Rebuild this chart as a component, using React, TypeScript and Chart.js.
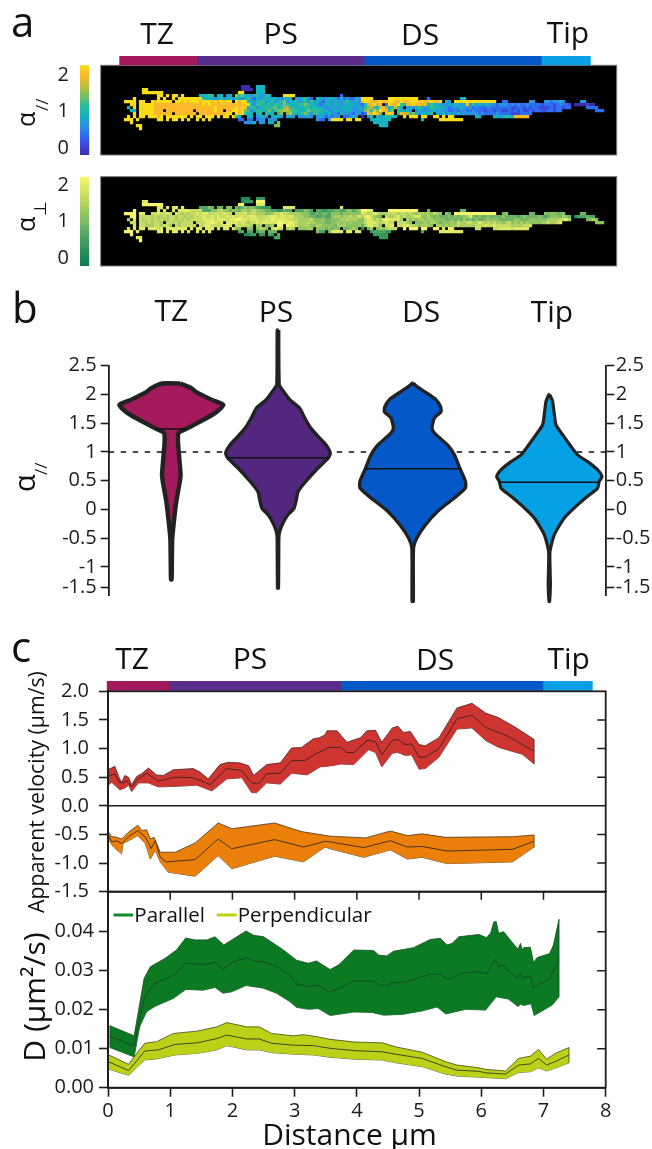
import React, { useEffect, useRef } from "react";
import { Chart, registerables } from "chart.js";

Chart.register(...registerables);

// ---------- panel a: localisation maps, one digit per pixel bin (0 = alpha 0, 9 = alpha 2) ----------
const parallelMap = [
  ".......... .......... .......... .......... 000..444",
  ".......99. .......... .......... .......... 0000.444",
  ".......999 9999...... .......... .........9 9....444",
  ".......... ..99.9.99. 9.....4445 5.44.34.65 6443453354 ....9999.. .......... ...2......",
  "....9..... ..9.9..9.9 9999999544 4345344354 3453243444 4433444.33 4532.44334 4324232243 9999.....9 999999999. ..2....... ...44.....",
  ".9999.99.. 9899999.99 8989998999 8989899.98 9944345534 5345634453 4535343244 3433454343 8998789889 9889889998 9889889.43 .999999999 99999..22. ......33.. .3323343.. ...33",
  "...99.9999 9888888888 8888888989 8888888888 8994355445 4554654445 5654432344 3443444433 2478978.29 8895488988 7845443334 3443483534 3443323332 3232232222 1222123221 .0000100",
  "..4.9.9999 9888888888 8888888888 8988888898 9845534554 5645675544 4554544333 4334444334 3567547864 5754.34345 4345544432 3334333232 2232222222 1122121221 1112122122 .....2222.",
  "...44.9999 9888.88888 8888.88888 8988.88998 9653455446 4566776554 4565555443 3443444333 3675869885 6.54343.34 3334434332 2323322322 2122122112 1212112122 1122122... ........22 2",
  "....9.9999 9888888.88 88888.8888 8888899.98 9544.45.54 4.56.67544 5653554434 3324333233 1287986.89 8.58775643 4445.43434 3343333332 3222232222 1112222...",
  "..9.9.99.9 9989.99999 99.9.99.99 9.9.99.954 ..44.3443. 4443.343.3 3343.34323 233.22343. 0.35.43455 44..9.999. 99..99.9.9 9.......44 ....443454 488888....",
  ".999.9.... ..99.9.99. 9.9..9.9.9 .........2 2.22.233.3 33........ .....322.3 9999.99.99 ...4444444 .......... 4.....9999 9999",
  "...9...... .......... .......... .......... .3334.33.4 4.6....... .......... .......... ....44444.",
  ".....99... .......... .......... .......... .......... .66....... .......... .......... ......444.",
  "......9..",
];
const perpendicularMap = [
  ".......... .......... .......... .......... 111..222",
  ".......88. .......... .......... .......... 1222.999",
  ".......999 9999...... .......... .........9 9....888",
  ".......... ..88.8.88. 8.....3335 4.44.55.43 4545433222 ....8888.. .......... ...8......",
  "....9..... ..8.8..8.8 8887777333 5567554554 6656765544 3322433.33 3543.33223 3443355345 9988.....9 999999999. ..4....... ...44.....",
  ".9999.88.. 7787787.87 6767787887 7777877.77 7867766655 6778776666 5553343443 5554555555 8767876667 7767767656 6665765.54 .999999999 99999..45. ......44.. .5455445.. ...44",
  "...99.7777 6766767767 7676777877 8787787878 8788877778 8878878766 6554433433 5665667668 6897654.76 6786766788 5565454445 4545568545 4454444544 4434544445 4345554654 .1333433",
  "..6.8.7677 6767667767 6767777888 8788878899 8878887787 9888887776 6667555544 5556676665 5788676898 8886.65656 6566555544 5454645454 4555554444 4554445555 5566667786 .....4565.",
  "...77.7767 6776.77676 7777.77788 9878.88887 8767787888 8899889876 6676655544 5565656555 5788876787 7.77765.55 5656654555 6576677668 7676766567 5656565555 6676678... ........55 5",
  "....8.7766 6776776.76 77777.7788 7777888.77 7776.66.55 6.99.98876 6665566555 5466655555 4688775.78 8.77887665 6665.66565 6676666677 7877877777 6666777...",
  "..8.8.88.8 8878.88888 88.8.88.88 8.8.88.855 ..55.5665. 7887.676.5 5566.55545 455.44565. 1.46.56567 77..9.999. 99..99.8.9 8.......77 ....778888 788888....",
  ".999.8.... ..88.8.88. 8.8..8.8.8 .........3 3.33.344.4 44........ .....533.4 8888.88.88 ...2333322 .......... 3.....8888 8888",
  "...9...... .......... .......... .......... .1122.22.3 2.3....... .......... .......... ....22222.",
  ".....88... .......... .......... .......... .......... .33....... .......... .......... ......222.",
  "......9..",
];
const parallelColors = ["#3f2da8", "#3a4be0", "#2e6ff0", "#2a92e0", "#16b2bf", "#2dbd98", "#7cc060", "#c8bc38", "#fcb92c", "#f8dd18"];
const perpendicularColors = ["#0a7a50", "#1f8a58", "#37975e", "#4ea565", "#6eb464", "#8cc263", "#a9cf62", "#c6dc64", "#e0e966", "#f8f66c"];

const regionNames = ["TZ", "PS", "DS", "Tip"];
const regionColors = ["#a3195b", "#5a2d8c", "#0558c8", "#0aa0e6"];
const mapRegionLengths = [1.0, 2.165, 2.287, 0.638];
const profileRegionLengths = [1.0, 2.765, 3.25, 0.8];

// ---------- panel b: violins as [alpha, half width] from top to bottom ----------
const violinTZ = [[2.19, 9], [2.11, 20], [2.04, 25], [1.91, 40], [1.82, 52], [1.68, 44], [1.52, 28], [1.4, 14.7], [1.33, 7.3], [1.18, 6.7], [0.89, 8], [0.6, 9.3], [0.43, 8], [0.14, 5], [-0.15, 3], [-0.5, 1], [-0.73, 0.7], [-1.19, 0.4], [-1.22, 0.2]];
const violinPS = [[3.12, 0.7], [2.17, 1.2], [2.08, 4.3], [1.91, 11.7], [1.76, 21.7], [1.59, 26.7], [1.41, 33], [1.24, 41.7], [1.12, 48], [0.98, 52.3], [0.89, 50], [0.72, 40], [0.49, 28], [0.31, 20], [0.17, 18.3], [0.02, 16], [-0.09, 10], [-0.27, 4], [-0.44, 1], [-0.73, 0.7], [-1.37, 0.4]];
const violinDS = [[2.2, 0.2], [2.14, 4], [2.05, 11.7], [1.91, 23.3], [1.79, 27.7], [1.7, 28.3], [1.59, 21.7], [1.41, 19.3], [1.3, 23.3], [1.12, 35], [0.95, 41.7], [0.71, 47.3], [0.49, 52.7], [0.37, 52.7], [0.2, 41.7], [-0.03, 25], [-0.27, 12.7], [-0.5, 4], [-0.67, 0.8], [-1.6, 0.6]];
const violinTip = [[2.0, 0.3], [1.96, 1.4], [1.88, 3.3], [1.7, 4.7], [1.47, 6.7], [1.3, 13.3], [1.12, 20.7], [0.95, 28.3], [0.81, 40], [0.69, 48.3], [0.57, 52.7], [0.49, 50], [0.37, 48.3], [0.23, 38.3], [0.08, 28.3], [-0.15, 15], [-0.44, 5], [-0.73, 0.7], [-1.08, 0.8], [-1.31, 1.1], [-1.6, 0.3]];
const violinProfiles = [violinTZ, violinPS, violinDS, violinTip];
const violinCentres = [62.6, 169.3, 304, 440.6];
const violinMeans = [1.4, 0.9, 0.71, 0.475];
const violinMeanHalfWidths = [14.7, 50.5, 47, 50];
const violinColors = ["#a3195b", "#53267f", "#0558c8", "#06a0e4"];
const violinStroke = [4.4, 3.4, 3.4, 3.2];
const alphaTicks = [2.5, 2, 1.5, 1, 0.5, 0, -0.5, -1, -1.36];
const alphaTickLabels = ["2.5", "2", "1.5", "1", "0.5", "0", "-0.5", "-1", "-1.5"];

// ---------- panel c ----------
const forwardUpper = [[0, 0.63], [0.11, 0.69], [0.18, 0.49], [0.22, 0.41], [0.27, 0.53], [0.33, 0.5], [0.38, 0.37], [0.46, 0.51], [0.54, 0.56], [0.65, 0.66], [0.78, 0.54], [0.89, 0.53], [1.05, 0.63], [1.37, 0.65], [1.48, 0.59], [1.61, 0.47], [1.8, 0.72], [1.93, 0.76], [2.12, 0.75], [2.26, 0.7], [2.34, 0.53], [2.55, 0.72], [2.77, 0.75], [2.95, 1.01], [3.11, 1.02], [3.3, 1.17], [3.4, 1.19], [3.49, 1.24], [3.52, 1.31], [3.68, 1.31], [3.84, 1.11], [4.06, 1.19], [4.16, 1.31], [4.3, 1.32], [4.4, 1.11], [4.57, 1.36], [4.66, 1.39], [4.75, 1.28], [4.86, 1.3], [5.0, 1.07], [5.1, 1.05], [5.32, 1.19], [5.61, 1.71], [5.85, 1.79], [6.07, 1.62], [6.28, 1.54], [6.55, 1.37], [6.85, 1.16]];
const forwardMid = [[0, 0.51], [0.11, 0.56], [0.18, 0.41], [0.25, 0.4], [0.3, 0.44], [0.38, 0.33], [0.46, 0.44], [0.62, 0.57], [0.81, 0.43], [1.05, 0.5], [1.37, 0.49], [1.64, 0.37], [1.91, 0.65], [2.15, 0.62], [2.31, 0.4], [2.42, 0.38], [2.55, 0.56], [2.77, 0.57], [2.95, 0.79], [3.17, 0.79], [3.36, 0.92], [3.55, 1.02], [3.74, 1.02], [3.84, 0.93], [3.95, 0.93], [4.18, 1.15], [4.3, 1.12], [4.4, 0.89], [4.57, 1.14], [4.66, 1.16], [4.78, 1.07], [4.88, 1.08], [5.0, 0.85], [5.1, 0.85], [5.32, 1.0], [5.61, 1.52], [5.85, 1.58], [6.07, 1.37], [6.44, 1.21], [6.85, 0.95]];
const forwardLower = [[0, 0.36], [0.06, 0.41], [0.19, 0.28], [0.27, 0.31], [0.33, 0.36], [0.38, 0.25], [0.49, 0.4], [0.65, 0.4], [0.81, 0.33], [1.1, 0.34], [1.43, 0.36], [1.67, 0.26], [1.91, 0.47], [2.15, 0.49], [2.31, 0.23], [2.39, 0.23], [2.55, 0.4], [2.77, 0.38], [2.95, 0.57], [3.2, 0.54], [3.41, 0.68], [3.6, 0.7], [3.74, 0.73], [3.95, 0.72], [4.19, 0.98], [4.3, 0.93], [4.4, 0.68], [4.57, 0.92], [4.66, 0.93], [4.78, 0.88], [4.88, 0.89], [5.0, 0.64], [5.1, 0.65], [5.32, 0.85], [5.61, 1.34], [5.85, 1.36], [6.07, 1.14], [6.28, 1.02], [6.66, 0.9], [6.85, 0.73]];

const backwardUpper = [[0, -0.45], [0.06, -0.54], [0.11, -0.54], [0.22, -0.58], [0.33, -0.46], [0.48, -0.34], [0.54, -0.43], [0.62, -0.42], [0.68, -0.58], [0.74, -0.55], [0.84, -0.81], [1.08, -0.81], [1.4, -0.65], [1.77, -0.3], [1.99, -0.4], [2.68, -0.3], [3.11, -0.45], [3.57, -0.53], [4.14, -0.56], [4.54, -0.44], [4.81, -0.52], [5.05, -0.49], [5.42, -0.55], [6.5, -0.54], [6.85, -0.51]];
const backwardMid = [[0, -0.5], [0.06, -0.63], [0.14, -0.61], [0.22, -0.66], [0.33, -0.54], [0.48, -0.43], [0.6, -0.55], [0.66, -0.66], [0.69, -0.75], [0.76, -0.61], [0.84, -0.9], [0.94, -0.98], [1.4, -0.94], [1.77, -0.58], [1.99, -0.75], [2.68, -0.59], [3.14, -0.72], [3.49, -0.62], [3.57, -0.63], [4.11, -0.73], [4.54, -0.61], [4.81, -0.72], [5.05, -0.71], [5.45, -0.79], [6.5, -0.76], [6.85, -0.62]];
const backwardLower = [[0, -0.58], [0.09, -0.72], [0.22, -0.84], [0.24, -0.66], [0.33, -0.61], [0.48, -0.52], [0.6, -0.66], [0.68, -0.93], [0.76, -0.78], [0.84, -0.98], [0.97, -1.16], [1.4, -1.23], [1.77, -0.87], [1.99, -1.1], [2.68, -0.88], [3.14, -0.98], [3.49, -0.72], [3.57, -0.75], [4.11, -0.9], [4.54, -0.77], [4.81, -0.93], [5.05, -0.9], [5.45, -1.01], [6.5, -0.98], [6.85, -0.72]];

const parallelUpper = [[0.03, 0.0159], [0.42, 0.0133], [0.58, 0.028], [0.68, 0.031], [0.92, 0.0332], [1.1, 0.0353], [1.25, 0.0384], [1.4, 0.0379], [1.59, 0.0379], [1.72, 0.0387], [1.86, 0.0366], [2.22, 0.0402], [2.34, 0.0391], [2.5, 0.0387], [2.82, 0.0353], [3.03, 0.0327], [3.22, 0.0319], [3.35, 0.0325], [3.57, 0.0303], [3.71, 0.0315], [3.95, 0.0353], [4.27, 0.0352], [4.35, 0.034], [4.48, 0.0338], [4.59, 0.035], [4.91, 0.0359], [5.18, 0.038], [5.34, 0.0383], [5.45, 0.0366], [5.53, 0.037], [5.64, 0.0387], [5.96, 0.0393], [6.08, 0.0385], [6.15, 0.0396], [6.2, 0.0425], [6.24, 0.0426], [6.28, 0.0396], [6.36, 0.04], [6.49, 0.0374], [6.59, 0.0355], [6.63, 0.037], [6.66, 0.0353], [6.68, 0.0359], [6.79, 0.036], [6.84, 0.0321], [6.9, 0.0334], [7.1, 0.0344], [7.16, 0.0366], [7.25, 0.0432]];
const parallelMid = [[0.03, 0.0132], [0.42, 0.0107], [0.58, 0.0229], [0.73, 0.0265], [1.08, 0.0291], [1.25, 0.0319], [1.59, 0.0316], [1.72, 0.0322], [1.85, 0.0304], [2.01, 0.0323], [2.22, 0.0333], [2.34, 0.0325], [2.52, 0.0322], [2.71, 0.031], [2.92, 0.0289], [3.03, 0.0266], [3.22, 0.0259], [3.38, 0.0263], [3.57, 0.0244], [3.95, 0.0274], [4.27, 0.0274], [4.35, 0.0263], [4.46, 0.0262], [4.59, 0.0269], [4.78, 0.0271], [5.18, 0.0291], [5.34, 0.0291], [5.45, 0.0279], [5.53, 0.0279], [5.64, 0.0293], [5.96, 0.0298], [6.08, 0.0291], [6.22, 0.0329], [6.28, 0.031], [6.34, 0.0314], [6.58, 0.028], [6.63, 0.0293], [6.66, 0.0282], [6.79, 0.0286], [6.84, 0.0255], [6.92, 0.0265], [7.1, 0.0279], [7.25, 0.0329]];
const parallelLower = [[0.03, 0.0103], [0.42, 0.0079], [0.51, 0.0156], [0.62, 0.0195], [0.76, 0.0209], [1.05, 0.0229], [1.25, 0.0252], [1.53, 0.025], [1.72, 0.0257], [1.85, 0.0242], [1.99, 0.0246], [2.22, 0.0262], [2.5, 0.0255], [2.71, 0.0242], [2.92, 0.0221], [3.03, 0.0206], [3.22, 0.0201], [3.38, 0.0203], [3.57, 0.0185], [3.95, 0.0194], [4.24, 0.0193], [4.43, 0.0186], [4.73, 0.0188], [5.05, 0.0197], [5.29, 0.0207], [5.43, 0.0189], [5.75, 0.0201], [6.07, 0.0199], [6.24, 0.0233], [6.44, 0.0227], [6.59, 0.0208], [6.63, 0.0214], [6.68, 0.0211], [6.8, 0.0215], [6.85, 0.0185], [6.98, 0.0197], [7.14, 0.0212], [7.25, 0.0233]];

const perpUpper = [[0, 0.0085], [0.33, 0.006], [0.59, 0.0114], [0.78, 0.0118], [1.05, 0.0139], [1.43, 0.0145], [1.75, 0.0156], [1.91, 0.0167], [2.23, 0.0156], [2.43, 0.0156], [2.63, 0.0139], [2.98, 0.0133], [3.14, 0.0136], [3.35, 0.0131], [3.57, 0.0124], [3.97, 0.0117], [4.41, 0.0115], [4.62, 0.0105], [5.05, 0.0091], [5.42, 0.0067], [5.61, 0.0058], [5.96, 0.0051], [6.07, 0.0047], [6.39, 0.0043], [6.6, 0.0075], [6.79, 0.0081], [6.92, 0.0098], [7.05, 0.0073], [7.19, 0.0088], [7.41, 0.0103]];
const perpMid = [[0, 0.0067], [0.33, 0.0044], [0.59, 0.0094], [0.81, 0.0097], [1.08, 0.0111], [1.43, 0.0115], [1.75, 0.0126], [1.91, 0.0135], [2.23, 0.0125], [2.43, 0.0125], [2.63, 0.0114], [2.98, 0.0109], [3.3, 0.0108], [3.57, 0.0101], [3.97, 0.0095], [4.41, 0.0092], [4.62, 0.0086], [5.05, 0.0075], [5.42, 0.0054], [5.61, 0.0045], [5.96, 0.0042], [6.07, 0.0038], [6.39, 0.0035], [6.6, 0.0058], [6.79, 0.0061], [6.92, 0.0075], [7.05, 0.0058], [7.19, 0.0067], [7.41, 0.0084]];
const perpLower = [[0, 0.0048], [0.33, 0.0032], [0.59, 0.0071], [0.78, 0.0074], [1.08, 0.0084], [1.43, 0.0088], [1.75, 0.0097], [1.91, 0.0108], [2.23, 0.0097], [2.43, 0.0097], [2.63, 0.009], [2.98, 0.0086], [3.3, 0.0084], [3.57, 0.0078], [3.97, 0.0073], [4.41, 0.0071], [4.62, 0.0064], [5.05, 0.0054], [5.42, 0.0035], [5.61, 0.003], [5.96, 0.0027], [6.07, 0.0026], [6.39, 0.0023], [6.6, 0.0039], [6.79, 0.0041], [6.92, 0.0051], [7.05, 0.0043], [7.19, 0.005], [7.41, 0.0064]];

const velocityTicks = [2, 1.5, 1, 0.5, 0, -0.5, -1, -1.5];
const diffusionTicks = [0, 0.01, 0.02, 0.03, 0.04];
const distanceTicks = [0, 1, 2, 3, 4, 5, 6, 7, 8];

const INK = "#1c1c1c";
const W = 652;
const H = 1149;
const FONT = '"Open Sans", sans-serif';
Chart.defaults.font.family = FONT;
Chart.defaults.color = INK;

type Txt = [string, number, number, number, ("left" | "center")?, boolean?];
const texts: Txt[] = [
  ["a", 11, 36.7, 42], ["b", 12, 322.7, 42], ["c", 11, 661.7, 42],
  ["TZ", 157, 43.5, 30, "center"], ["PS", 280.7, 43.7, 30, "center"], ["DS", 420, 45, 30, "center"], ["Tip", 568, 43, 30, "center"],
  ["TZ", 171.3, 321, 30, "center"], ["PS", 276, 322, 30, "center"], ["DS", 421, 322, 30, "center"], ["Tip", 552, 321.7, 30, "center"],
  ["TZ", 132, 669, 30, "center"], ["PS", 250, 669, 30, "center"], ["DS", 435, 669.5, 30, "center"], ["Tip", 568.7, 669, 30, "center"],
  ["α", 35, 127, 25, "left", true], ["//", 48, 111, 17, "left", true],
  ["α", 35, 232, 25, "left", true], ["⊥", 46, 216, 17, "left", true],
  ["α", 35, 492, 29, "left", true], ["//", 47, 475, 17, "left", true],
  ["Apparent velocity (µm/s)", 44, 792, 21.3, "center", true],
  ["D (µm²/s)", 44.5, 997, 30, "center", true],
  ["Distance µm", 349.5, 1145, 30, "center"],
  ["Parallel", 134.3, 921.7, 20.5], ["Perpendicular", 237.7, 921.7, 20.5],
];

const toPoints = (pairs: number[][]) => pairs.map(([x, y]) => ({ x, y }));

const mapPoints = (rows: string[]) => {
  const pts: { x: number; y: number; level: number }[] = [];
  rows.forEach((row, r) => {
    row.replace(/ /g, "").split("").forEach((c, col) => {
      if (c !== ".") pts.push({ x: col, y: r, level: Number(c) });
    });
  });
  return pts;
};

const violinPoints = (centre: number, profile: number[][]) => {
  const right = profile.map(([a, w]) => ({ x: centre + w, y: a }));
  const left = [...profile].reverse().map(([a, w]) => ({ x: centre - w, y: a }));
  return [...right, ...left, right[0]];
};

const padBox = (l: number, t: number, r: number, b: number) => ({ left: l, top: t, right: W - r, bottom: H - b });
const fixWidth = (w: number) => (s: any) => { s.width = w; };
const fixHeight = (h: number) => (s: any) => { s.height = h; };
const setTicks = (vals: number[]) => (s: any) => { s.ticks = vals.map((value) => ({ value })); };

const band = (upper: number[][], mid: number[][], lower: number[][], fill: string, edge: string) => {
  const base = { pointRadius: 0, tension: 0, borderColor: edge, clip: false };
  const last = (a: number[][]) => a[a.length - 1];
  return [
    { ...base, data: toPoints(mid), borderWidth: 1, fill: false },
    { ...base, data: toPoints([last(lower), last(upper)]), borderWidth: 0.8, fill: false },
    { ...base, data: toPoints([lower[0], upper[0]]), borderWidth: 0.8, fill: false },
    { ...base, data: toPoints(upper), borderWidth: 0.8, fill: "+1", backgroundColor: fill },
    { ...base, data: toPoints(lower), borderWidth: 0.8, fill: false },
  ];
};

const framePlugin = (cfg: { right?: number[]; top?: number[]; lines?: number[] }) => ({
  id: "frame",
  afterDraw(chart: any) {
    const { ctx, chartArea: a, scales } = chart;
    ctx.save();
    ctx.strokeStyle = INK;
    ctx.lineWidth = 1.8;
    ctx.strokeRect(a.left, a.top, a.right - a.left, a.bottom - a.top);
    ctx.lineWidth = 1.5;
    ctx.beginPath();
    (cfg.right || []).forEach((v) => {
      const y = scales.y.getPixelForValue(v);
      ctx.moveTo(a.right - 8.5, y);
      ctx.lineTo(a.right, y);
    });
    (cfg.top || []).forEach((v) => {
      const x = scales.x.getPixelForValue(v);
      ctx.moveTo(x, a.top);
      ctx.lineTo(x, a.top + 8);
    });
    (cfg.lines || []).forEach((v) => {
      const y = scales.y.getPixelForValue(v);
      ctx.moveTo(a.left, y);
      ctx.lineTo(a.right, y);
    });
    ctx.stroke();
    ctx.restore();
  },
});

const blackPlate = {
  id: "plate",
  beforeDatasetsDraw(chart: any) {
    const { ctx, chartArea: a } = chart;
    ctx.save();
    ctx.fillStyle = "#000";
    ctx.fillRect(a.left, a.top, a.right - a.left, a.bottom - a.top);
    ctx.strokeStyle = "#777";
    ctx.lineWidth = 1;
    ctx.strokeRect(a.left, a.top, a.right - a.left, a.bottom - a.top);
    ctx.restore();
  },
};

const textPlugin = {
  id: "figureText",
  afterDraw(chart: any) {
    const { ctx } = chart;
    ctx.save();
    ctx.fillStyle = "#111";
    ctx.textBaseline = "alphabetic";
    texts.forEach(([s, x, y, size, align = "left", rot = false]) => {
      ctx.save();
      ctx.translate(x, y);
      if (rot) ctx.rotate(-Math.PI / 2);
      ctx.font = `${size}px ${FONT}`;
      ctx.textAlign = align;
      ctx.fillText(s, 0, 0);
      ctx.restore();
    });
    ctx.lineWidth = 3;
    ctx.strokeStyle = "#0e8a30";
    ctx.beginPath();
    ctx.moveTo(113.5, 915);
    ctx.lineTo(133, 915);
    ctx.stroke();
    ctx.strokeStyle = "#bfd214";
    ctx.beginPath();
    ctx.moveTo(216.7, 915);
    ctx.lineTo(236.7, 915);
    ctx.stroke();
    ctx.restore();
  },
};

const base = (padding: any) => ({
  responsive: false,
  animation: false as const,
  events: [] as any[],
  layout: { padding },
  plugins: { legend: { display: false }, tooltip: { enabled: false } },
});

const hidden = (min: number, max: number, extra: any = {}) => ({ type: "linear", display: false, min, max, ...extra });

const axisStyle = (len: number) => ({
  grid: { drawOnChartArea: false, tickLength: len, tickColor: INK, tickWidth: 1.6 },
  border: { color: INK, width: 1.8 },
});

const heatConfig = (rows: string[], colors: string[], t: number, b: number, yMin: number, yMax: number) => {
  const pts = mapPoints(rows);
  return {
    type: "scatter",
    data: {
      datasets: [{
        data: pts,
        pointStyle: "rect",
        pointRadius: 2.3,
        pointBorderWidth: 0,
        pointBackgroundColor: pts.map((p) => colors[p.level]),
      }],
    },
    options: {
      ...base(padBox(100.7, t, 616.7, b)),
      scales: { x: hidden(-7.27, 164.7), y: hidden(yMin, yMax, { reverse: true }) },
    },
    plugins: [blackPlate],
    soften: true,
  };
};

const colorbarConfig = (colors: string[], t: number, b: number, min: number, max: number) => ({
  type: "bar",
  data: {
    labels: ["alpha"],
    datasets: [{
      data: [[min, max]],
      barPercentage: 1,
      categoryPercentage: 1,
      borderWidth: 0,
      backgroundColor: (c: any) => {
        const area = c.chart.chartArea;
        if (!area) return colors[0];
        const g = c.chart.ctx.createLinearGradient(0, area.bottom, 0, area.top);
        colors.forEach((col, i) => g.addColorStop(i / (colors.length - 1), col));
        return g;
      },
    }],
  },
  options: {
    ...base({ left: 0, top: t, right: W - 89.3, bottom: H - b }),
    scales: {
      x: { display: false },
      y: {
        min, max,
        afterFit: fixWidth(80),
        afterBuildTicks: setTicks([2, 1, 0]),
        grid: { display: false },
        border: { display: false },
        ticks: { padding: 3, font: { size: 20 }, color: INK, autoSkip: false },
      },
    },
  },
});

const segmentConfig = (lengths: number[], l: number, t: number, r: number, b: number) => ({
  type: "bar",
  data: {
    labels: ["regions"],
    datasets: lengths.map((v, i) => ({
      label: regionNames[i],
      data: [v],
      backgroundColor: regionColors[i],
      borderWidth: 0,
      barPercentage: 1,
      categoryPercentage: 1,
    })),
  },
  options: {
    ...base(padBox(l, t, r, b)),
    indexAxis: "y",
    scales: {
      x: hidden(0, lengths.reduce((s, v) => s + v, 0), { stacked: true }),
      y: { display: false, stacked: true },
    },
  },
});

const violinConfig = () => {
  const datasets: any[] = [];
  violinProfiles.forEach((profile, i) => {
    datasets.push({
      data: [
        { x: violinCentres[i] - violinMeanHalfWidths[i], y: violinMeans[i] },
        { x: violinCentres[i] + violinMeanHalfWidths[i], y: violinMeans[i] },
      ],
      borderColor: "#111",
      borderWidth: 1.5,
      showLine: true,
      pointRadius: 0,
      fill: false,
    });
  });
  violinProfiles.forEach((profile, i) => {
    datasets.push({
      data: violinPoints(violinCentres[i], profile),
      showLine: true,
      pointRadius: 0,
      tension: 0.2,
      clip: false,
      fill: "shape",
      backgroundColor: violinColors[i],
      borderColor: "#222",
      borderWidth: violinStroke[i],
      borderJoinStyle: "round",
    });
  });
  datasets.push({
    data: [{ x: 0, y: 1 }, { x: 497.6, y: 1 }],
    showLine: true,
    pointRadius: 0,
    borderColor: "#111",
    borderWidth: 1.4,
    borderDash: [5.5, 6.5],
    fill: false,
  });
  const tickCfg = { font: { size: 20 }, color: INK, autoSkip: false, maxRotation: 0, padding: 4, callback: (_: any, i: number) => alphaTickLabels[i] };
  return {
    type: "scatter",
    data: { datasets },
    options: {
      ...base({ left: 0, top: 365.7, right: 0, bottom: H - 595.7 }),
      scales: {
        x: hidden(0, 497.6),
        y: { type: "linear", position: "left", min: -1.5, max: 2.5, afterFit: fixWidth(108.7), afterBuildTicks: setTicks(alphaTicks), ...axisStyle(8), ticks: tickCfg },
        y2: { type: "linear", position: "right", min: -1.5, max: 2.5, afterFit: fixWidth(W - 606.3), afterBuildTicks: setTicks(alphaTicks), ...axisStyle(8), ticks: { ...tickCfg, padding: 1.5 } },
      },
    },
  };
};

const velocityConfig = () => ({
  type: "line",
  data: {
    datasets: [
      ...band(forwardUpper, forwardMid, forwardLower, "#cf3530", "#4a2422"),
      ...band(backwardUpper, backwardMid, backwardLower, "#ea7f0a", "#4a3418"),
    ],
  },
  options: {
    ...base({ left: 0, top: 691.3, right: W - 605.7, bottom: H - 891.7 }),
    scales: {
      x: hidden(0, 8),
      y: {
        type: "linear", min: -1.5, max: 2,
        afterFit: fixWidth(108),
        afterBuildTicks: setTicks(velocityTicks),
        ...axisStyle(9),
        ticks: { font: { size: 20 }, color: INK, autoSkip: false, padding: 10, callback: (v: number) => v.toFixed(1) },
      },
    },
  },
  plugins: [framePlugin({ right: [1.5, 1, 0.5, -0.5, -1], lines: [0] })],
});

const diffusionConfig = () => ({
  type: "line",
  data: {
    datasets: [
      ...band(parallelUpper, parallelMid, parallelLower, "#0b7a22", "#174a22"),
      ...band(perpUpper, perpMid, perpLower, "#bdd018", "#3f4a18"),
    ],
  },
  options: {
    ...base({ left: 0, top: 891.7, right: W - 605.7, bottom: 0 }),
    scales: {
      x: {
        type: "linear", min: 0, max: 8,
        afterFit: fixHeight(H - 1087.7),
        afterBuildTicks: setTicks(distanceTicks),
        ...axisStyle(9),
        ticks: { font: { size: 20 }, color: INK, autoSkip: false, maxRotation: 0, padding: 3, callback: (v: number) => String(v) },
      },
      y: {
        type: "linear", min: 0, max: 0.05026,
        afterFit: fixWidth(108),
        afterBuildTicks: setTicks(diffusionTicks),
        ...axisStyle(9),
        ticks: { font: { size: 20 }, color: INK, autoSkip: false, padding: 5, callback: (v: number) => v.toFixed(2) },
      },
    },
  },
  plugins: [framePlugin({ right: diffusionTicks.slice(1), top: distanceTicks.slice(1, 8) }), textPlugin],
});

const configs = () => [
  heatConfig(parallelMap, parallelColors, 65.3, 155, -7.07, 22.83),
  heatConfig(perpendicularMap, perpendicularColors, 176.7, 266, -7.27, 22.5),
  colorbarConfig(parallelColors, 65.3, 155, -0.19, 2.27),
  colorbarConfig(perpendicularColors, 176.7, 266, -0.21, 2.23),
  segmentConfig(mapRegionLengths, 119.3, 56, 590.7, 65.3),
  segmentConfig(profileRegionLengths, 106.7, 681, 592.7, 690.7),
  violinConfig(),
  velocityConfig(),
  diffusionConfig(),
];

export default function App() {
  const host = useRef<HTMLDivElement>(null);
  useEffect(() => {
    const el = host.current!;
    const charts = configs().map((cfg: any) => {
      const canvas = document.createElement("canvas");
      canvas.width = W;
      canvas.height = H;
      canvas.style.cssText = "position:absolute;left:0;top:0;display:block" + (cfg.soften ? ";filter:blur(0.45px)" : "");
      el.appendChild(canvas);
      return new Chart(canvas, cfg);
    });
    return () => {
      charts.forEach((c) => { const cv = c.canvas; c.destroy(); cv.remove(); });
    };
  }, []);
  return <div ref={host} style={{ position: "absolute", left: 0, top: 0, width: W, height: H, overflow: "hidden", background: "#fff" }} />;
}
